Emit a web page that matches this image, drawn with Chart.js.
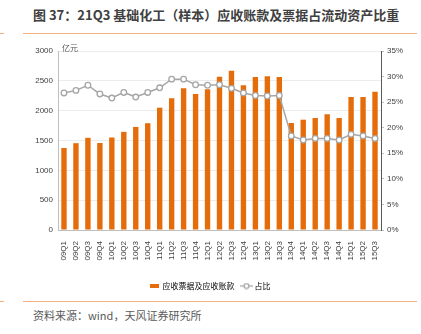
<!DOCTYPE html>
<html>
<head>
<meta charset="utf-8">
<script src="https://cdn.jsdelivr.net/npm/chart.js@4/dist/chart.umd.min.js"></script>
<style>
  body { margin: 0; width: 421px; height: 334px; background: #fff; position: relative; overflow: hidden; font-family: "Noto Sans CJK SC", "Liberation Sans", sans-serif; }
  .title { position: absolute; left: 33px; top: 5px; font-size: 13px; font-weight: bold; color: #404040; white-space: nowrap; }
  .rule { position: absolute; height: 1px; background: #f5b183; }
  .source { position: absolute; left: 33px; top: 307px; font-size: 11px; color: #595959; white-space: nowrap; }
  #wrap { position: absolute; left: 0; top: 38px; width: 421px; height: 262px; }
</style>
</head>
<body>
<div class="title">图 37：21Q3 基础化工（样本）应收账款及票据占流动资产比重</div>
<div class="rule" style="left:0;top:33px;width:4px"></div>
<div class="rule" style="left:23px;top:33px;width:394px"></div>
<div id="wrap"><canvas id="chart"></canvas></div>
<div class="rule" style="left:0;top:301px;width:4px"></div>
<div class="rule" style="left:23px;top:301px;width:394px"></div>
<div class="source">资料来源：wind，天风证券研究所</div>
<script>
// quarters on the x axis
var quarters = ['09Q1', '09Q2', '09Q3', '09Q4', '10Q1', '10Q2', '10Q3', '10Q4',
    '11Q1', '11Q2', '11Q3', '11Q4', '12Q1', '12Q2', '12Q3', '12Q4',
    '13Q1', '13Q2', '13Q3', '13Q4', '14Q1', '14Q2', '14Q3', '14Q4',
    '15Q1', '15Q2', '15Q3'];
// receivables + notes, 亿元
var receivables = [1375, 1455, 1545, 1458, 1550, 1645, 1728, 1790,
    2050, 2210, 2375, 2280, 2358, 2570, 2668, 2428,
    2566, 2576, 2566, 1793, 1849, 1877, 1940, 1877,
    2230, 2230, 2318];
// share of current assets, %
var ratio = [26.8, 27.3, 28.3, 26.6, 25.8, 26.9, 26.0, 26.9,
    27.8, 29.5, 29.5, 28.4, 28.3, 28.4, 27.7, 26.8,
    26.3, 26.2, 26.3, 18.4, 17.6, 17.9, 17.9, 17.6,
    18.7, 18.4, 17.9];
var leftTicks = [0, 500, 1000, 1500, 2000, 2500, 3000];
var rightTicks = [0, 5, 10, 15, 20, 25, 30, 35];
var seriesNames = ['应收票据及应收账款', '占比'];

var barColor = '#e46c0a';
var lineColor = '#a6a6a6';

// small legend symbols
function makeBarSymbol() {
    var c = document.createElement('canvas');
    c.width = 9; c.height = 4;
    var ctx = c.getContext('2d');
    ctx.fillStyle = barColor;
    ctx.fillRect(0, 0, 9, 4);
    return c;
}
function makeLineSymbol() {
    var c = document.createElement('canvas');
    c.width = 13; c.height = 7;
    var ctx = c.getContext('2d');
    ctx.strokeStyle = lineColor;
    ctx.lineWidth = 1.3;
    ctx.beginPath();
    ctx.moveTo(0, 3.5); ctx.lineTo(13, 3.5);
    ctx.stroke();
    ctx.beginPath();
    ctx.arc(6.5, 3.5, 2.4, 0, Math.PI * 2);
    ctx.fillStyle = '#fff';
    ctx.fill();
    ctx.stroke();
    return c;
}

// unit label above the left axis
var unitLabel = {
    id: 'unitLabel',
    afterDraw: function(chart) {
        var ctx = chart.ctx;
        var area = chart.chartArea;
        ctx.save();
        ctx.fillStyle = '#595959';
        ctx.font = '8px "Noto Sans CJK SC"';
        ctx.textBaseline = 'bottom';
        ctx.fillText('亿元', area.left + 4, area.top + 1);
        ctx.restore();
    }
};

var tickFont = { family: 'Liberation Sans', size: 8 };

new Chart(document.getElementById('chart'), {
    data: {
        labels: quarters,
        datasets: [{
            type: 'line',
            label: seriesNames[1],
            data: ratio,
            yAxisID: 'y1',
            borderColor: lineColor,
            borderWidth: 1.5,
            pointRadius: 2.8,
            pointBorderWidth: 1.3,
            pointBackgroundColor: '#fff',
            pointBorderColor: lineColor,
            pointStyle: 'circle',
            order: 0
        }, {
            type: 'bar',
            label: seriesNames[0],
            data: receivables,
            yAxisID: 'y',
            backgroundColor: barColor,
            barPercentage: 0.45,
            categoryPercentage: 1,
            order: 1
        }]
    },
    options: {
        animation: false,
        responsive: true,
        maintainAspectRatio: false,
        layout: { padding: { top: 13, bottom: 0, left: 0, right: 0 } },
        plugins: {
            tooltip: { enabled: false },
            legend: {
                position: 'bottom',
                reverse: true,
                labels: {
                    usePointStyle: true,
                    font: { family: 'Noto Sans CJK SC', size: 8 },
                    color: '#404040',
                    padding: 8,
                    generateLabels: function(chart) {
                        return chart.data.datasets.map(function(ds, i) {
                            return {
                                text: ds.label,
                                pointStyle: ds.type === 'bar' ? makeBarSymbol() : makeLineSymbol(),
                                datasetIndex: i,
                                hidden: false,
                                lineWidth: 0
                            };
                        });
                    }
                }
            }
        },
        scales: {
            x: {
                grid: { display: false, drawTicks: true, offset: true },
                border: { color: '#bfbfbf' },
                ticks: { font: tickFont, color: '#404040', minRotation: 90, maxRotation: 90, autoSkip: false, padding: 3 },
                afterFit: function(scale) { scale.height = 44; }
            },
            y: {
                position: 'left',
                min: 0, max: 3000,
                afterBuildTicks: function(scale) { scale.ticks = leftTicks.map(function(v) { return { value: v }; }); },
                grid: { color: '#ececec', drawTicks: false },
                border: { color: '#bfbfbf' },
                ticks: { font: tickFont, color: '#404040', padding: 5, callback: function(v) { return String(v); } },
                afterFit: function(scale) { scale.width = 58; }
            },
            y1: {
                position: 'right',
                min: 0, max: 35,
                afterBuildTicks: function(scale) { scale.ticks = rightTicks.map(function(v) { return { value: v }; }); },
                grid: { drawOnChartArea: false, color: '#bfbfbf', tickLength: 3 },
                border: { color: '#595959' },
                ticks: { font: tickFont, color: '#404040', padding: 3, callback: function(v) { return v + '%'; } },
                afterFit: function(scale) { scale.width = 40; }
            }
        }
    },
    plugins: [unitLabel]
});
</script>
</body>
</html>
